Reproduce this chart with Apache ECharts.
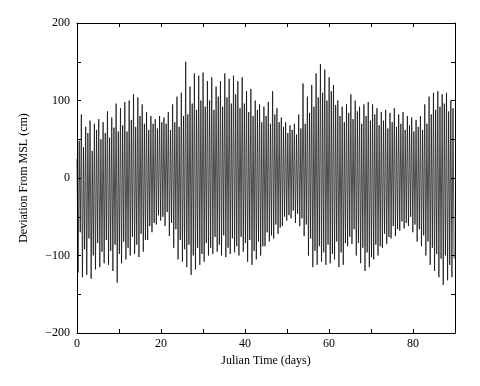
<!DOCTYPE html>
<html><head><meta charset="utf-8">
<script src="https://cdn.jsdelivr.net/npm/echarts@6/dist/echarts.min.js"></script>
<style>html,body{margin:0;padding:0;background:#fff}#c{width:480px;height:386px}</style>
</head><body><div id="c"></div>
<script>
// Tidal cycle period (days) and extremes (cm); 10 cycles per row
const cyclePeriod = 0.5175;
const highWater = [
 25,48, 82,40, 66,58, 74,35, 70,62, 76,50, 72,58, 86,52, 78,65, 96,60,
 90,68, 98,60, 100,75, 108,66, 104,80, 95,70, 85,62, 80,70, 76,64, 80,72,
 78,70, 85,62, 95,72, 105,66, 110,80, 150,82, 118,96, 135,88, 132,100, 136,92,
 125,100, 130,88, 118,105, 125,92, 135,104, 128,96, 132,108, 125,90, 130,96, 112,85,
 115,80, 100,88, 95,72, 92,80, 98,70, 112,82, 90,72, 78,66, 72,58, 68,62,
 70,56, 82,64, 122,70, 105,84, 120,92, 135,104, 147,110, 140,100, 130,112, 120,94,
 100,80, 92,72, 95,84, 108,76, 100,86, 92,70, 95,80, 98,74, 95,82, 90,68,
 85,74, 88,64, 84,72, 90,66, 82,70, 85,62, 80,68, 78,60, 75,66, 80,62,
 95,70, 105,82, 110,88, 112,92, 108,96, 110,86, 100,90
];
const lowWater = [
 -122,-70, -128,-92, -125,-78, -130,-100, -118,-84, -115,-95, -110,-80, -112,-94, -120,-86, -135,-98,
 -110,-82, -105,-90, -100,-76, -98,-86, -102,-72, -95,-80, -80,-62, -70,-58, -60,-48, -55,-50,
 -62,-44, -75,-58, -90,-66, -105,-80, -108,-92, -115,-86, -125,-100, -118,-90, -112,-98, -108,-84,
 -100,-90, -98,-76, -95,-86, -100,-74, -102,-90, -98,-78, -96,-88, -100,-76, -95,-84, -108,-80,
 -112,-94, -105,-82, -100,-88, -88,-70, -82,-74, -78,-60, -72,-64, -62,-50, -55,-48, -52,-42,
 -58,-46, -62,-52, -75,-60, -100,-78, -115,-94, -112,-88, -108,-96, -112,-86, -110,-98, -105,-82,
 -115,-96, -112,-84, -88,-76, -85,-66, -100,-84, -110,-90, -120,-96, -115,-102, -105,-86, -100,-88,
 -90,-72, -85,-76, -78,-62, -75,-66, -68,-56, -65,-58, -62,-50, -70,-60, -82,-66, -88,-74,
 -100,-82, -112,-90, -120,-98, -128,-104, -138,-100, -132,-112, -128,-104
];
const xTicks = [0, 20, 40, 60, 80];
const yTicks = [-200, -100, 0, 100, 200];

const series = [];
for (let i = 0; i < highWater.length; i++) {
  series.push([i * cyclePeriod, highWater[i]]);
  series.push([i * cyclePeriod + cyclePeriod / 2, lowWater[i]]);
}

const font = 'Liberation Serif';
const tick = {show: true, inside: true, length: 4, lineStyle: {color: '#000'}};
const line = {show: true, onZero: false, lineStyle: {color: '#000', width: 1}};
const chart = echarts.init(document.getElementById('c'));
chart.setOption({
  animation: false,
  backgroundColor: '#fff',
  grid: {left: 77, right: 25, top: 23, bottom: 53},
  xAxis: [{
    type: 'value', position: 'bottom', min: 0, max: 90, interval: 10,
    axisLine: line, axisTick: tick, splitLine: {show: false},
    axisLabel: {color: '#000', fontFamily: font, fontSize: 12, margin: 5,
      formatter: v => xTicks.includes(v) ? String(v) : ''},
    name: 'Julian Time (days)', nameLocation: 'middle', nameGap: 18,
    nameTextStyle: {color: '#000', fontFamily: font, fontSize: 12}
  }, {
    type: 'value', position: 'top', min: 0, max: 90, interval: 10,
    axisLine: line, axisTick: tick, axisLabel: {show: false}, splitLine: {show: false}
  }],
  yAxis: [{
    type: 'value', position: 'left', min: -200, max: 200, interval: 50,
    axisLine: line, axisTick: tick, splitLine: {show: false},
    axisLabel: {color: '#000', fontFamily: font, fontSize: 12, margin: 7,
      formatter: v => yTicks.includes(v) ? (v < 0 ? '\u2212' + (-v) : String(v)) : ''},
    name: 'Deviation From MSL (cm)', nameLocation: 'middle', nameGap: 47,
    nameTextStyle: {color: '#000', fontFamily: font, fontSize: 12}
  }, {
    type: 'value', position: 'right', min: -200, max: 200, interval: 50,
    axisLine: line, axisTick: tick, axisLabel: {show: false}, splitLine: {show: false}
  }],
  series: [{
    type: 'line', data: series, showSymbol: false, symbol: 'none',
    lineStyle: {color: '#000', width: 0.7}, xAxisIndex: 0, yAxisIndex: 0
  }]
});
</script>
</body></html>
